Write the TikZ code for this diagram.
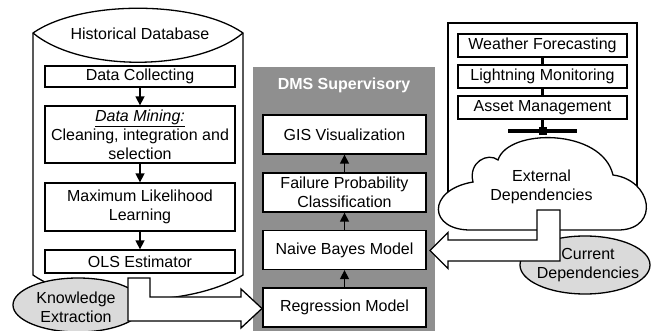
\documentclass[tikz,border=0pt]{standalone}
\usepackage{fontspec}
\setmainfont{Liberation Sans}
\usetikzlibrary{shapes.geometric,arrows.meta}
\definecolor{panelgray}{HTML}{8F8F8F}
\definecolor{ellgray}{HTML}{DADADA}
\begin{document}
\begin{tikzpicture}[x=1pt,y=-1pt,
  txt/.style={align=center, inner sep=0pt, font=\fontsize{16}{19}\selectfont},
  box/.style={txt, draw=black, line width=1.3pt, fill=white},
  lbox/.style={box, minimum width=190pt},
  mbox/.style={box, minimum width=163pt, minimum height=39pt},
  rbox/.style={box, minimum width=169pt, minimum height=23pt},
  ell/.style={txt, ellipse, draw=black, line width=1.3pt, fill=ellgray},
  arr/.style={line width=1.5pt, -{Triangle[length=9pt,width=9pt]}},
  bus/.style={line width=3pt},
  fatarrow/.style={draw=black, line width=1.3pt, fill=white, line join=miter}]
\useasboundingbox (0,0) rectangle (659,331);

% Historical database cylinder
\draw[line width=1.3pt, fill=white]
  (33,33) .. controls (80,0) and (196,0) .. (243,33) -- (243,275)
  .. controls (190,308) and (80,308) .. (33,275) -- cycle;
\draw[line width=1.3pt] (33,33) .. controls (80,72) and (196,72) .. (243,33);
\node[txt] (hdb) at (140,34) {Historical Database};

\node[lbox, minimum height=21pt] (dc) at (140,76.5) {Data Collecting};
\node[lbox, minimum height=57pt] (dm) at (140,134.5) {\underline{\textit{Data Mining:}}\\Cleaning, integration and\\selection};
\node[lbox, minimum height=48pt] (ml) at (140,207) {Maximum Likelihood\\Learning};
\node[lbox, minimum height=23pt] (ols) at (140,261.5) {OLS Estimator};
\draw[arr] (dc) -- (dm);
\draw[arr] (dm) -- (ml);
\draw[arr] (ml) -- (ols);

% Knowledge extraction ellipse
\node[ell, minimum width=130pt, minimum height=54pt] (ke) at (78,305) {};
\node[txt] (ket) at (76,307) {Knowledge\\Extraction};

% DMS panel
\fill[panelgray] (253,67) rectangle (435,331);
\node[txt, text=white, font=\fontsize{16}{19}\selectfont\bfseries] (dms) at (344,85) {DMS Supervisory};
\node[mbox] (gis) at (344.5,134.5) {GIS Visualization};
\node[mbox] (fpc) at (344.5,192.5) {Failure Probability\\Classification};
\node[mbox] (nb) at (344.5,250) {Naive Bayes Model};
\node[mbox] (rm) at (344.5,307.5) {Regression Model};
\draw[arr] (rm) -- (nb);
\draw[arr] (nb) -- (fpc);
\draw[arr] (fpc) -- (gis);

% Left fat arrow
\draw[fatarrow] (128,278) -- (150,278) -- (150,297) -- (241,297) -- (241,289)
  -- (262,308.5) -- (241,328) -- (241,321) -- (128,321) -- cycle;

% External panel
\draw[line width=1.3pt, fill=white] (448,23) rectangle (637,215);
\node[rbox] (wf) at (542.5,45.5) {Weather Forecasting};
\node[rbox] (lm) at (542.5,76.5) {Lightning Monitoring};
\node[rbox] (am) at (542.5,107.5) {Asset Management};
\coordinate (bar) at (542.5,131);
\coordinate (barL) at (508,131);
\coordinate (barR) at (577,131);
\draw[bus] (wf) -- (lm);
\draw[bus] (lm) -- (am);
\draw[bus] (am) -- (bar);
\draw[line width=4pt] (barL) -- (barR);
\node[fill=black, minimum size=8pt, inner sep=0pt] (barsq) at (bar) {};

% Cloud
\draw[line width=1.3pt, fill=white]
  (472,230) .. controls (428,231) and (426,190) .. (473,182)
  .. controls (468,162) and (488,152) .. (498,160)
  .. controls (508,128) and (602,128) .. (613,175)
  .. controls (652,180) and (660,228) .. (620,230)
  -- cycle;
\node[txt] (ext) at (541.5,187) {External\\Dependencies};

% Current dependencies
\node[ell, minimum width=130pt, minimum height=58pt] (cd) at (585,265) {};

% Right fat arrow
\draw[fatarrow] (560,210) -- (560,261) -- (448,261) -- (448,268.5)
  -- (430,250.5) -- (448,232.5) -- (448,240) -- (537,240) -- (537,210) -- cycle;
\node[txt] (cdt) at (588,265.5) {Current\\Dependencies};
\end{tikzpicture}
\end{document}
